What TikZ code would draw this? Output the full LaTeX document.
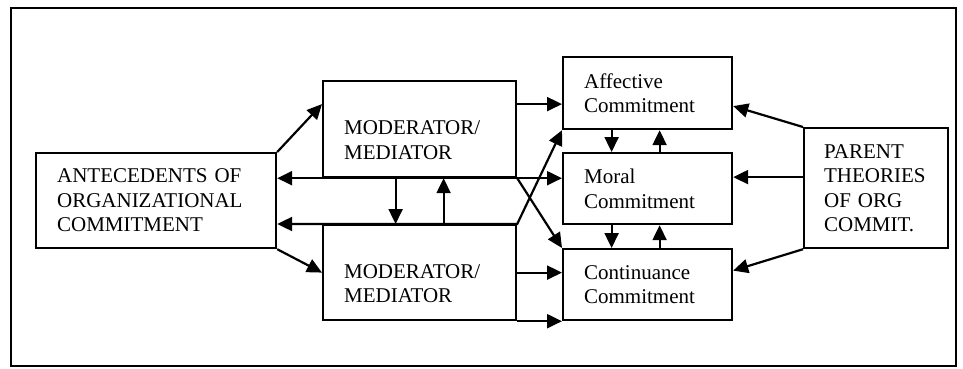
\documentclass[tikz,border=0pt]{standalone}
\usepackage{fontspec}
\setmainfont{Liberation Serif}
\usetikzlibrary{arrows.meta}
\begin{document}
\begin{tikzpicture}[x=1pt, y=-1pt, >={Triangle[length=15pt,width=14pt]}, line width=2.2pt,
    box/.style={draw, anchor=north west, align=left, inner xsep=21pt, inner ysep=0pt,
      font=\fontsize{21}{24.5}\selectfont}]
    \useasboundingbox (0,0) rectangle (963,368);
    \draw (11,8) rectangle (956,366); % khung
    \node[box, text width=198pt, minimum height=95pt] (ante) at (35,152) {ANTECEDENTS OF\\ORGANIZATIONAL\\COMMITMENT};
    \node[box, text width=151pt, minimum height=96pt, text height=36pt] (mtop) at (322,80) {MODERATOR/\\MEDIATOR};
    \node[box, text width=151pt, minimum height=95pt, text height=36pt] (mbot) at (322,224) {MODERATOR/\\MEDIATOR};
    \node[box, text width=127pt, minimum height=72pt] (aff) at (562,56) {Affective\\Commitment};
    \node[box, text width=127pt, minimum height=71pt] (moral) at (562,152) {Moral\\Commitment};
    \node[box, text width=127pt, minimum height=71pt] (cont) at (562,248) {Continuance\\Commitment};
    \node[box, text width=104pt, inner xsep=20pt, minimum height=120pt] (par) at (803,127) {PARENT\\THEORIES\\OF ORG\\COMMIT.};
    % trai
    \draw[->] (ante.north east) -- ([yshift=25pt]mtop.west);
    \draw[->] (ante.south east) -- (mbot.west);
    \draw[<->] (ante.east |- mtop.south) -- (moral.west |- mtop.south);
    \draw[<->] (ante.east |- mbot.north) -- (mbot.north east) -- (aff.south west);
    \draw[->] (mtop.south east) -- (cont.north west);
    \draw[->] ([xshift=-24pt]mtop.south) -- ([xshift=-24pt]mbot.north);
    \draw[->] ([xshift=24pt]mbot.north) -- ([xshift=24pt]mtop.south);
    \draw[->] ([yshift=25pt]mtop.east) -- ([yshift=25pt]mtop.east -| aff.west);
    \draw[->] (mbot.east) -- (mbot.east -| cont.west);
    \draw[->] (mbot.south east) -- (mbot.south east -| cont.west);
    % giua
    \foreach \u/\l in {aff/moral, moral/cont}{
        \draw[->] ([xshift=-36pt]\u.south) -- ([xshift=-36pt]\l.north);
        \draw[->] ([xshift=12pt]\l.north) -- ([xshift=12pt]\u.south);
    }
    % phai
    \draw[->] (par.north west) -- ([yshift=-13pt]aff.east);
    \draw[->] ([yshift=11pt]par.west) -- ([yshift=11pt]par.west -| moral.east);
    \draw[->] (par.south west) -- ([yshift=14pt]cont.east);
\end{tikzpicture}
\end{document}
